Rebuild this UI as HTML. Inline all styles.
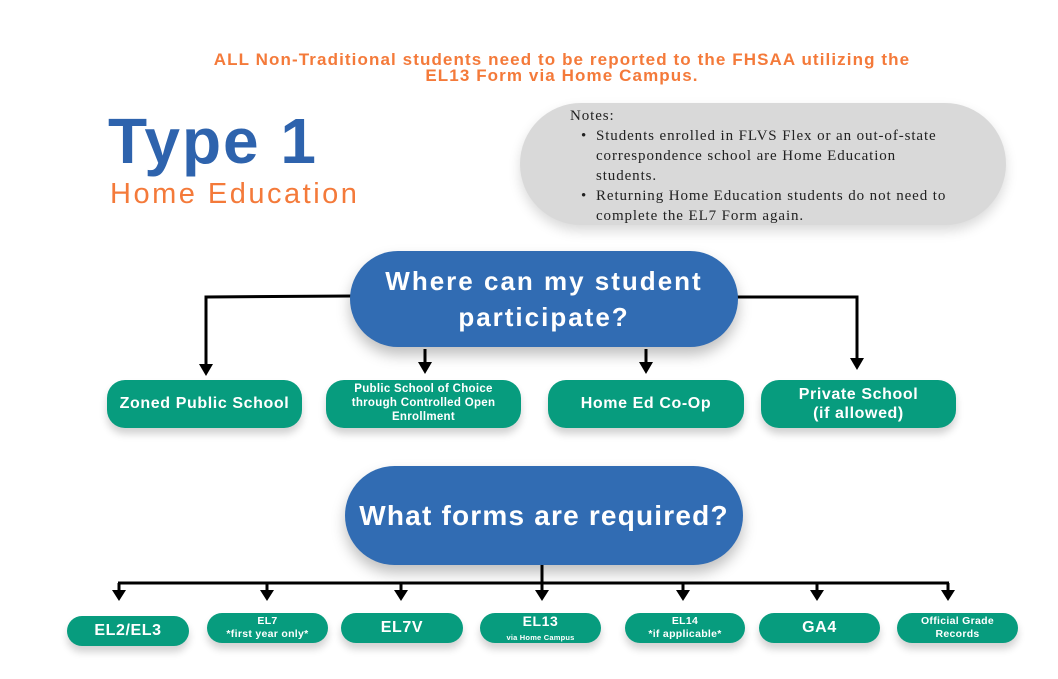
<!DOCTYPE html>
<html><head><meta charset="utf-8"><style>
*{margin:0;padding:0;box-sizing:border-box}
body{width:1058px;height:679px;background:#fff;position:relative;overflow:hidden;font-family:"Liberation Sans",sans-serif}
.a{position:absolute}
.hdr{left:110px;width:904px;top:52px;text-align:center;color:#f47a3a;font-weight:bold;font-size:17px;letter-spacing:1.1px;line-height:16px}
.g{position:absolute;background:#079c7e;color:#fff;font-weight:bold;border-radius:18px;display:flex;align-items:center;justify-content:center;text-align:center;box-shadow:0 6px 8px rgba(0,0,0,.18);line-height:1.2;letter-spacing:.6px}
.b{position:absolute;background:#316cb3;color:#fff;font-weight:bold;border-radius:50px;display:flex;align-items:center;justify-content:center;text-align:center;box-shadow:0 8px 14px rgba(0,0,0,.25)}
</style></head><body>
<div class="a hdr">ALL Non-Traditional students need to be reported to the FHSAA utilizing the<br>EL13 Form via Home Campus.</div>
<div class="a" style="left:108px;top:104px;font-size:64px;font-weight:bold;color:#2e63ad;letter-spacing:2px">Type 1</div>
<div class="a" style="left:110px;top:178px;font-size:29px;color:#f47a3a;letter-spacing:2.5px">Home Education</div>
<div class="a" style="left:520px;top:103px;width:486px;height:122px;border-radius:61px;background:#d9d9d9;box-shadow:0 6px 12px rgba(0,0,0,.15)"></div>
<div class="a" style="left:570px;top:106px;font-family:'Liberation Serif',serif;font-size:15px;letter-spacing:0.9px;line-height:20px;color:#222;white-space:nowrap">Notes:
<div style="position:relative;padding-left:26px"><span style="position:absolute;left:11px">•</span>Students enrolled in FLVS Flex or an out-of-state<br>correspondence school are Home Education<br>students.</div>
<div style="position:relative;padding-left:26px"><span style="position:absolute;left:11px">•</span>Returning Home Education students do not need to<br>complete the EL7 Form again.</div></div>
<svg class="a" style="left:0;top:0" width="1058" height="679">
<g stroke="#000" stroke-width="3" fill="none">
<polyline points="352,296 206,297 206,366"/>
<polyline points="736,297 857,297 857,360"/>
<line x1="425" y1="349" x2="425" y2="364"/>
<line x1="646" y1="349" x2="646" y2="364"/>
<line x1="542" y1="565" x2="542" y2="584"/>
<line x1="118" y1="583" x2="949" y2="583"/>
<line x1="119" y1="583" x2="119" y2="592"/><line x1="267" y1="583" x2="267" y2="592"/><line x1="401" y1="583" x2="401" y2="592"/><line x1="542" y1="583" x2="542" y2="592"/><line x1="683" y1="583" x2="683" y2="592"/><line x1="817" y1="583" x2="817" y2="592"/><line x1="948" y1="583" x2="948" y2="592"/>
</g>
<g fill="#000">
<polygon points="199,364 213,364 206,376"/><polygon points="850,358 864,358 857,370"/>
<polygon points="418,362 432,362 425,374"/><polygon points="639,362 653,362 646,374"/>
<polygon points="112,590 126,590 119,601"/><polygon points="260,590 274,590 267,601"/><polygon points="394,590 408,590 401,601"/><polygon points="535,590 549,590 542,601"/><polygon points="676,590 690,590 683,601"/><polygon points="810,590 824,590 817,601"/><polygon points="941,590 955,590 948,601"/>
</g></svg>
<div class="b" style="left:350px;top:251px;width:388px;height:96px;font-size:26px;line-height:36px;letter-spacing:2px">Where can my student<br>participate?</div>
<div class="b" style="left:345px;top:466px;width:398px;height:99px;font-size:28px;letter-spacing:1.2px">What forms are required?</div>
<div class="g" style="left:107px;top:380px;width:195px;height:48px;font-size:16px">Zoned Public School</div>
<div class="g" style="left:326px;top:380px;width:195px;height:48px;font-size:11.5px;letter-spacing:.3px">Public School of Choice<br>through Controlled Open<br>Enrollment</div>
<div class="g" style="left:548px;top:380px;width:196px;height:48px;font-size:16px">Home Ed Co-Op</div>
<div class="g" style="left:761px;top:380px;width:195px;height:48px;font-size:16px">Private School<br>(if allowed)</div>
<div class="g" style="left:67px;top:616px;width:122px;height:30px;font-size:16px">EL2/EL3</div>
<div class="g" style="left:207px;top:613px;width:121px;height:30px;font-size:10.5px;letter-spacing:.3px">EL7<br>*first year only*</div>
<div class="g" style="left:341px;top:613px;width:122px;height:30px;font-size:16px">EL7V</div>
<div class="g" style="left:480px;top:613px;width:121px;height:30px;font-size:14px;line-height:1"><div>EL13<br><span style="font-size:7.5px;letter-spacing:.2px">via Home Campus</span></div></div>
<div class="g" style="left:625px;top:613px;width:120px;height:30px;font-size:10.5px;letter-spacing:.3px">EL14<br>*if applicable*</div>
<div class="g" style="left:759px;top:613px;width:121px;height:30px;font-size:16px">GA4</div>
<div class="g" style="left:897px;top:613px;width:121px;height:30px;font-size:10.5px;letter-spacing:.3px">Official Grade<br>Records</div>
</body></html>
